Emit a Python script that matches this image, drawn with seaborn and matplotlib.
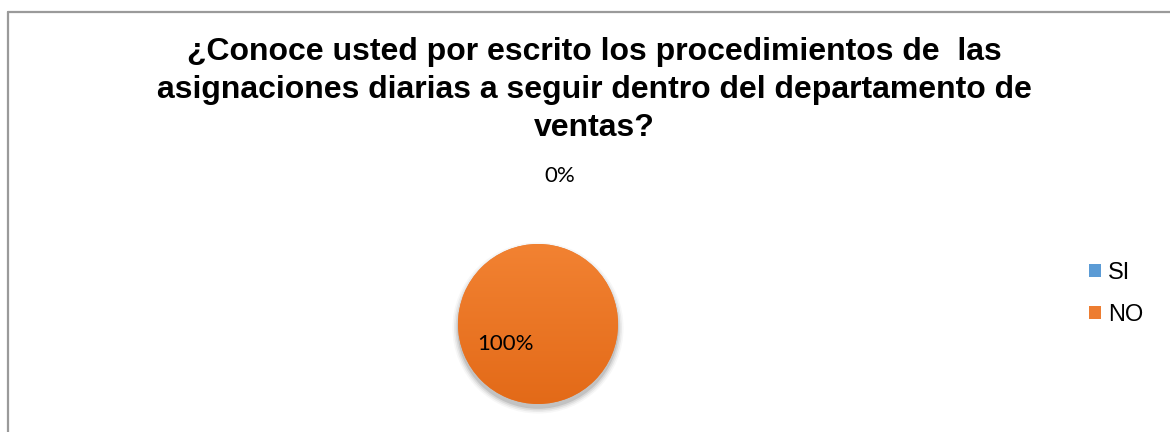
import matplotlib.pyplot as plt
import matplotlib.patches as mpatches
from matplotlib.lines import Line2D
import seaborn as sns
import numpy as np

# chart data
categories = ["SI", "NO"]
values = [0, 100]
pct_labels = ["0%", "100%"]
colors = ["#5B9BD5", "#ED7D31"]
title = ("¿Conoce usted por escrito los procedimientos de  las\n"
         "asignaciones diarias a seguir dentro del departamento de\n"
         "ventas?")

sns.set_theme(style="white")
plt.rcParams["font.family"] = ["Liberation Sans", "DejaVu Sans"]
plt.rcParams["text.color"] = "black"

fig = plt.figure(figsize=(11.7, 4.32), dpi=100)
fig.patch.set_facecolor("white")

# outer frame (left + top only visible)
fx0, fy1 = 7.5 / 1170, 1 - 11.5 / 432
fig.add_artist(Line2D([fx0, fx0], [0, fy1], color="#9a9a9a", lw=1.6, transform=fig.transFigure))
fig.add_artist(Line2D([fx0, 1], [fy1, fy1], color="#9a9a9a", lw=1.6, transform=fig.transFigure))

fig.text(594 / 1170, 1 - 90 / 432, title, ha="center", va="center",
         fontsize=23, fontweight="bold", linespacing=1.36, color="black")

# pie axes: center (538, 324) px, radius 80 px
r = 80
ax = fig.add_axes([(538 - r) / 1170, (432 - 324 - r) / 432, 2 * r / 1170, 2 * r / 432])

# soft shadow under the pie
for rr, a in [(1.07, 0.03), (1.05, 0.05), (1.03, 0.07), (1.01, 0.10)]:
    ax.add_patch(mpatches.Circle((0.0, -0.05), rr, color="black", alpha=a, lw=0, zorder=1, clip_on=False))

wedges, _ = ax.pie(values, colors=colors, startangle=90, counterclock=False,
                   radius=1, wedgeprops=dict(linewidth=0), normalize=True)
for w in wedges:
    w.set_zorder(2)
    w.set_clip_on(False)

ax.set_xlim(-1, 1)
ax.set_ylim(-1, 1)
ax.set_aspect("equal")
ax.axis("off")

# vertical gradient on the orange wedge
grad = np.linspace(0, 1, 256)[:, None]
top = np.array([242, 130, 50]) / 255
bot = np.array([227, 106, 24]) / 255
img = top[None, None, :] * (1 - grad[..., None]) + bot[None, None, :] * grad[..., None]
im = ax.imshow(np.repeat(img, 2, axis=1), extent=[-1, 1, -1, 1], origin="upper",
               zorder=3, aspect="auto")
im.set_clip_path(wedges[1])

# percentage labels
lab_font = ["Lato", "DejaVu Sans"]
ax.text(0.275, 1.85, pct_labels[0], ha="center", va="center", fontsize=16,
        family=lab_font, color="black", zorder=5, clip_on=False)
ax.text(-0.41, -0.25, pct_labels[1], ha="center", va="center", fontsize=16,
        family=lab_font, color="black", zorder=5, clip_on=False)

handles = [mpatches.Patch(facecolor=c, edgecolor="none") for c in colors]
leg = fig.legend(handles, categories, loc="center left",
                 bbox_to_anchor=(1089 / 1170, (432 - 294) / 432),
                 frameon=False, fontsize=17, handlelength=0.5, handleheight=0.5,
                 handletextpad=0.3, labelspacing=0.85, borderpad=0, borderaxespad=0)
for t in leg.get_texts():
    t.set_color("black")

fig.savefig("out.png", dpi=100, facecolor="white")
